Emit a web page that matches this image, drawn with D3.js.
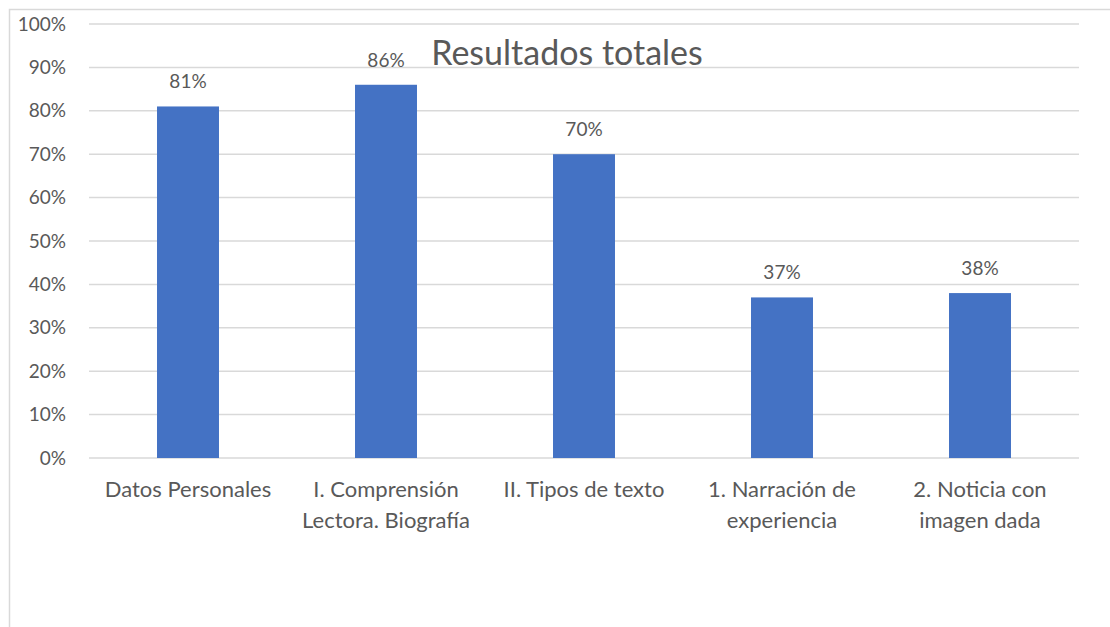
<!DOCTYPE html>
<html>
<head>
<meta charset="utf-8">
<script src="https://cdn.jsdelivr.net/npm/d3@7"></script>
<style>
  body { margin: 0; background: #fff; }
  text { font-family: Lato, "Open Sans", sans-serif; fill: #595959; }
</style>
</head>
<body>
<div id="chart"></div>
<script>
// categories and values
const categories = [
  ["Datos Personales"],
  ["I. Comprensión", "Lectora. Biografía"],
  ["II. Tipos de texto"],
  ["1. Narración de", "experiencia"],
  ["2. Noticia con", "imagen dada"]
];
const values = [0.81, 0.86, 0.70, 0.37, 0.38];
const yTicks = [0, 0.1, 0.2, 0.3, 0.4, 0.5, 0.6, 0.7, 0.8, 0.9, 1.0];
const title = "Resultados totales";

const W = 1110, H = 627;
const margin = { top: 24, right: 31, bottom: 169, left: 89 };
const width = W - margin.left - margin.right;
const height = H - margin.top - margin.bottom;

const svg = d3.select("#chart")
  .append("svg")
  .attr("width", W)
  .attr("height", H);

// outer chart border (only top and left visible)
svg.append("path")
  .attr("d", `M9.5,${H} V9.5 H${W}`)
  .attr("fill", "none")
  .attr("stroke", "#d9d9d9")
  .attr("stroke-width", 1.5);

const g = svg.append("g")
  .attr("transform", `translate(${margin.left},${margin.top})`);

const x = d3.scaleBand()
  .domain(d3.range(categories.length))
  .range([0, width])
  .paddingInner(0.687)
  .paddingOuter(0.3435);

const y = d3.scaleLinear()
  .domain([0, 1])
  .range([height, 0]);

// gridlines
g.selectAll(".grid")
  .data(yTicks)
  .enter()
  .append("line")
  .attr("x1", 0)
  .attr("x2", width)
  .attr("y1", d => y(d))
  .attr("y2", d => y(d))
  .attr("stroke", "#d9d9d9")
  .attr("stroke-width", 1.5);

// y axis labels
const yAxis = g.append("g")
  .call(d3.axisLeft(y).tickValues(yTicks).tickFormat(d3.format(".0%")).tickSize(0).tickPadding(23));
yAxis.select(".domain").remove();
yAxis.selectAll("text")
  .attr("font-size", 19)
  .attr("fill", "#595959")
  .attr("font-family", "Lato, 'Open Sans', sans-serif");

// bars
g.selectAll(".bar")
  .data(values)
  .enter()
  .append("rect")
  .attr("x", (d, i) => x(i))
  .attr("y", d => y(d))
  .attr("width", x.bandwidth())
  .attr("height", d => height - y(d))
  .attr("fill", "#4472c4");

// value labels
g.selectAll(".val")
  .data(values)
  .enter()
  .append("text")
  .attr("x", (d, i) => x(i) + x.bandwidth() / 2)
  .attr("y", d => y(d) - 18)
  .attr("text-anchor", "middle")
  .attr("font-size", 19)
  .text(d => d3.format(".0%")(d));

// category labels
const cat = g.selectAll(".cat")
  .data(categories)
  .enter()
  .append("text")
  .attr("x", (d, i) => x(i) + x.bandwidth() / 2)
  .attr("y", height + 39)
  .attr("text-anchor", "middle")
  .attr("font-size", 22);
cat.selectAll("tspan")
  .data(d => d)
  .enter()
  .append("tspan")
  .attr("x", function () { return this.parentNode.getAttribute("x"); })
  .attr("dy", (d, i) => i === 0 ? 0 : 31)
  .text(d => d);

// title
svg.append("text")
  .attr("x", 567)
  .attr("y", 65)
  .attr("text-anchor", "middle")
  .attr("font-size", 34)
  .text(title);
</script>
</body>
</html>
